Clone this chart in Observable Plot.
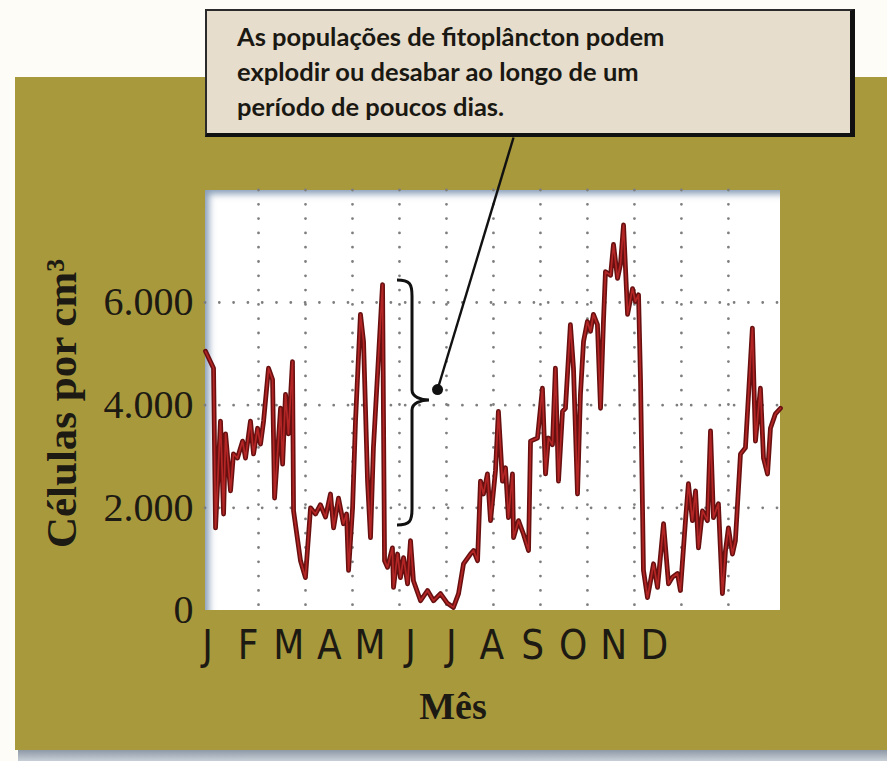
<!DOCTYPE html>
<html><head><meta charset="utf-8">
<script src="https://cdn.jsdelivr.net/npm/d3@7"></script>
<script src="https://cdn.jsdelivr.net/npm/@observablehq/plot@0.6"></script>
<style>
body{margin:0;background:#fdfcf7;}
#wrap{position:relative;width:887px;height:761px;overflow:hidden;background:#fdfcf7;}
.olive{position:absolute;left:15px;top:77px;width:872px;height:673px;background:#a9993d;}
.shade{position:absolute;left:18px;top:750px;width:869px;height:11px;background:linear-gradient(#8e99a6,#c8cfd7);}
.panel{position:absolute;left:205px;top:190px;width:575px;height:420px;background:#fff;box-shadow:inset 9px 9px 7px -5px rgba(115,140,172,.85);}
.note{position:absolute;left:205px;top:9px;width:650px;height:128px;box-sizing:border-box;background:#e7ddcc;border:2px solid #2a2a2a;border-right:5px solid #111;border-bottom:4px solid #111;padding:8px 0 0 30px;font-family:Lato,"Open Sans",sans-serif;font-weight:700;font-size:25.5px;line-height:35px;color:#1a1812;}
#chart{position:absolute;left:0;top:0;}
</style></head>
<body>
<div id="wrap">
  <div class="olive"></div>
  <div class="shade"></div>
  <div class="panel"></div>
  <div class="note">As populações de fitoplâncton podem<br>explodir ou desabar ao longo de um<br>período de poucos dias.</div>
  <div id="chart"></div>
</div>
<script>
// day of year (0–365) and cells per cm³
const days = [-3.9,1.3,2.6,5.8,7.8,9.1,12.3,14.2,16.8,20.1,22.0,25.2,27.2,29.8,31.7,33.7,36.9,39.5,40.8,44.7,46.0,47.9,49.8,52.4,53.1,57.6,60.8,64.1,67.3,70.5,73.8,77.0,79.0,82.2,85.4,87.4,88.7,91.3,93.2,96.4,98.4,101.0,102.9,104.8,110.7,111.3,112.0,113.9,117.1,117.8,120.4,122.3,124.3,126.9,128.8,130.7,135.3,139.8,143.7,148.2,152.7,156.6,159.9,163.1,167.6,169.6,172.2,174.1,176.0,178.6,180.6,183.8,185.7,188.3,190.3,192.2,194.8,195.5,198.7,201.9,205.2,206.5,211.0,214.2,216.2,218.1,220.7,222.6,224.6,227.2,229.1,232.3,234.3,236.9,238.8,240.8,243.3,245.3,247.2,249.8,251.8,253.7,255.0,258.3,260.2,262.8,264.7,266.7,269.3,272.5,274.4,276.4,277.7,279.6,282.2,284.2,286.1,288.7,292.6,295.8,298.4,301.6,303.5,306.8,308.7,311.3,313.3,315.2,317.8,321.0,323.0,324.9,328.1,330.7,332.7,334.6,337.2,339.1,342.4,345.6,350.1,352.1,355.3,357.3,359.9,361.8,365.0,368.3];
const cells = [5050,4720,1610,3690,1880,3440,2330,3050,2970,3300,2970,3690,3050,3550,3240,3690,4720,4500,2190,3940,2850,4210,3440,4850,1940,970,640,2000,1880,2060,1820,2270,1610,2190,1690,1880,780,2000,3690,5770,5240,2520,1420,3170,6350,3830,970,840,1220,450,1100,640,1030,520,1360,580,190,390,190,330,140,60,330,910,1100,1170,970,2520,2270,2660,1750,2720,3880,2520,2780,1810,2660,1420,1750,1490,1170,3300,3360,4330,2660,3360,3230,4720,2520,3880,3940,5570,4720,2270,4210,5240,5630,5440,5770,5570,3940,5630,6600,6530,7130,6470,6740,7510,5770,6270,6020,6150,4470,780,250,580,910,450,1690,520,650,720,390,1750,2470,1750,2330,1220,1940,1750,3500,1810,2080,330,1170,1610,1100,1360,3050,3170,5500,3300,4330,2970,2660,3550,3830,3940];
const months = ["J","F","M","A","M","J","J","A","S","O","N","D"];
const yTicks = [0, 2000, 4000, 6000];
const yGrid = [2000, 4000, 6000];
const yTitle = "Células por cm³";
const xTitle = "Mês";
// annotation anchors (data units)
const brace = {day: 130.1, top: 6430, bottom: 1656, mid: 4091};
const pointer = {x1: 195.5, y1: 9215, x2: 146.3, y2: 4305};

const data = days.map((d, i) => ({day: d, cells: cells[i]}));
const monthGrid = d3.range(1, 12).map(k => k * 365 / 12);
const fmt = d3.formatLocale({decimal: ",", thousands: ".", grouping: [3], currency: ["", ""]}).format(",d");
const labelStart = -2.6, labelStep = 26.3;
const ink = "#1c1a12";
const dots = {stroke: "#7e7e7e", strokeWidth: 2.8, strokeDasharray: "0,14.3", strokeLinecap: "round"};

function braceMark(index, scales) {
  const sx = scales.x(brace.day), t = scales.y(brace.top), b = scales.y(brace.bottom), m = scales.y(brace.mid);
  const w = 15, tip = 17;
  const d = `M${sx - w},${t} C${sx - 2},${t} ${sx},${t + 4} ${sx},${t + 16} L${sx},${m - 10} C${sx},${m - 3} ${sx + tip - 8},${m} ${sx + tip},${m} C${sx + tip - 8},${m} ${sx},${m + 3} ${sx},${m + 10} L${sx},${b - 16} C${sx},${b - 4} ${sx - 2},${b} ${sx - w},${b}`;
  return d3.create("svg:path").attr("d", d).attr("fill", "none").attr("stroke", "#111").attr("stroke-width", 3).node();
}

const chart = Plot.plot({
  width: 887, height: 761,
  marginLeft: 205, marginRight: 107, marginTop: 190, marginBottom: 151,
  x: {domain: [-3.9, 368.3], axis: null},
  y: {domain: [0, 8182], axis: null},
  style: {background: "transparent", overflow: "visible", color: ink},
  marks: [
    Plot.ruleX(monthGrid, dots),
    Plot.ruleY(yGrid, dots),
    Plot.text(yTicks, {y: d => d, text: d => fmt(d), frameAnchor: "left", textAnchor: "end", dx: -12, fontSize: 40, fontFamily: "Liberation Serif, serif", fill: ink}),
    Plot.line(data, {x: "day", y: "cells", stroke: "#681010", strokeWidth: 4.8}),
    Plot.line(data, {x: "day", y: "cells", stroke: "#b42626", strokeWidth: 1.7}),
    braceMark,
    Plot.link([pointer], {x1: "x1", y1: "y1", x2: "x2", y2: "y2", stroke: "#111", strokeWidth: 2.4}),
    Plot.dot([pointer], {x: "x2", y: "y2", r: 5.5, fill: "#111"}),
    Plot.text(months, {x: (d, i) => labelStart + i * labelStep, text: d => d, frameAnchor: "bottom", lineAnchor: "bottom", dy: 48, fontSize: 40, fontFamily: "Liberation Sans Narrow, DejaVu Sans Condensed, sans-serif", fill: ink}),
    Plot.text([xTitle], {frameAnchor: "bottom", lineAnchor: "bottom", dx: -40, dy: 108, fontSize: 38, fontWeight: "bold", fontFamily: "Liberation Serif, serif", fill: ink}),
    Plot.text([yTitle], {frameAnchor: "left", textAnchor: "middle", dx: -143, dy: 3, rotate: -90, fontSize: 43, fontWeight: "bold", fontFamily: "Liberation Serif, serif", fill: ink})
  ]
});
document.getElementById("chart").appendChild(chart);
</script>
</body></html>
